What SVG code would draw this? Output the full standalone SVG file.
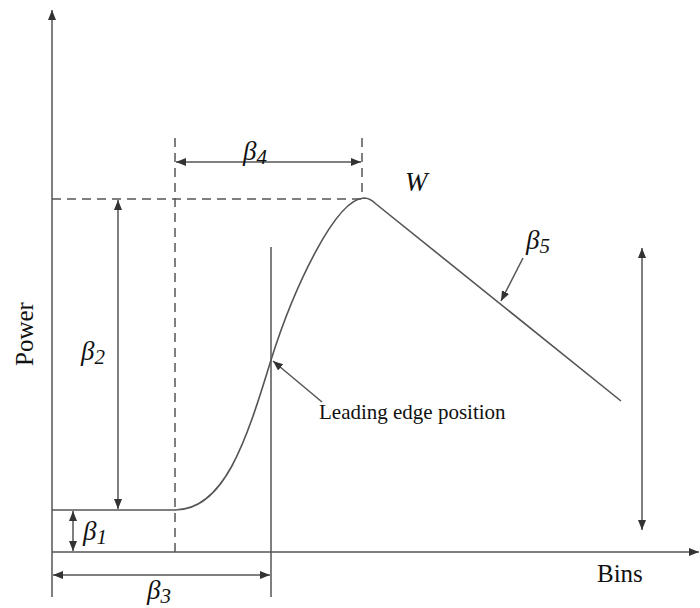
<svg xmlns="http://www.w3.org/2000/svg" width="700" height="608" viewBox="0 0 700 608">
<style>
.ln{stroke:#555;stroke-width:1.5;fill:none}
.ds{stroke:#555;stroke-width:1.5;fill:none;stroke-dasharray:9,6}
.cv{stroke:#555;stroke-width:1.6;fill:none}
.tx{font-family:"Liberation Serif","Times New Roman",serif;fill:#111}
.gk{font-family:"Liberation Serif","Times New Roman",serif;font-style:italic;font-size:27px;fill:#111}
.sb{font-size:21px}
</style>
<defs>
<marker id="ah" viewBox="0 0 10 10" refX="10" refY="5" markerWidth="10" markerHeight="10" markerUnits="userSpaceOnUse" orient="auto-start-reverse">
<path d="M0,1 L10,5 L0,9 Z" fill="#333"/>
</marker>
</defs>
<g id="connectors">
<line id="y-axis" class="ln" x1="52" y1="597" x2="52" y2="10" marker-end="url(#ah)"/>
<line id="x-axis" class="ln" x1="52" y1="552" x2="699" y2="552" marker-end="url(#ah)"/>
<line class="ds" x1="52" y1="199" x2="362" y2="199"/>
<line class="ds" x1="175" y1="138" x2="175" y2="552"/>
<line class="ds" x1="362" y1="138" x2="362" y2="199"/>
<line class="ln" x1="271" y1="247" x2="271" y2="597"/>
<line id="beta1-arrow" class="ln" x1="73" y1="511" x2="73" y2="551" marker-start="url(#ah)" marker-end="url(#ah)"/>
<line id="beta2-arrow" class="ln" x1="118" y1="200" x2="118" y2="509" marker-start="url(#ah)" marker-end="url(#ah)"/>
<line id="beta3-arrow" class="ln" x1="53" y1="575" x2="270" y2="575" marker-start="url(#ah)" marker-end="url(#ah)"/>
<line id="beta4-arrow" class="ln" x1="176" y1="162" x2="361" y2="162" marker-start="url(#ah)" marker-end="url(#ah)"/>
<line id="beta5-arrow" class="ln" x1="523" y1="258" x2="501" y2="301" marker-end="url(#ah)"/>
<line id="right-arrow" class="ln" x1="642" y1="248" x2="642" y2="530" marker-start="url(#ah)" marker-end="url(#ah)"/>
<line id="le-arrow" class="ln" x1="322" y1="402" x2="273" y2="361" marker-end="url(#ah)"/>
</g>
<g id="curve">
<path class="cv" d="M52,510 L175,510 C224,510 246,442 271,360 C293,290 335,199 364,198 Q370,198 376,204 L621,401"/>
</g>
<g id="labels">
<text class="tx" font-size="25" transform="translate(33,334) rotate(-90)" text-anchor="middle">Power</text>
<text class="tx" font-size="25" x="597" y="582">Bins</text>
<text class="tx" font-size="21" x="319" y="419">Leading edge position</text>
<text class="gk" x="405" y="191" font-size="25">W</text>
<text class="gk" x="83" y="540">β<tspan class="sb" dy="4">1</tspan></text>
<text class="gk" x="81" y="360">β<tspan class="sb" dy="4">2</tspan></text>
<text class="gk" x="147" y="599">β<tspan class="sb" dy="4">3</tspan></text>
<text class="gk" x="243" y="160">β<tspan class="sb" dy="4">4</tspan></text>
<text class="gk" x="526" y="249">β<tspan class="sb" dy="4">5</tspan></text>
</g>
</svg>
